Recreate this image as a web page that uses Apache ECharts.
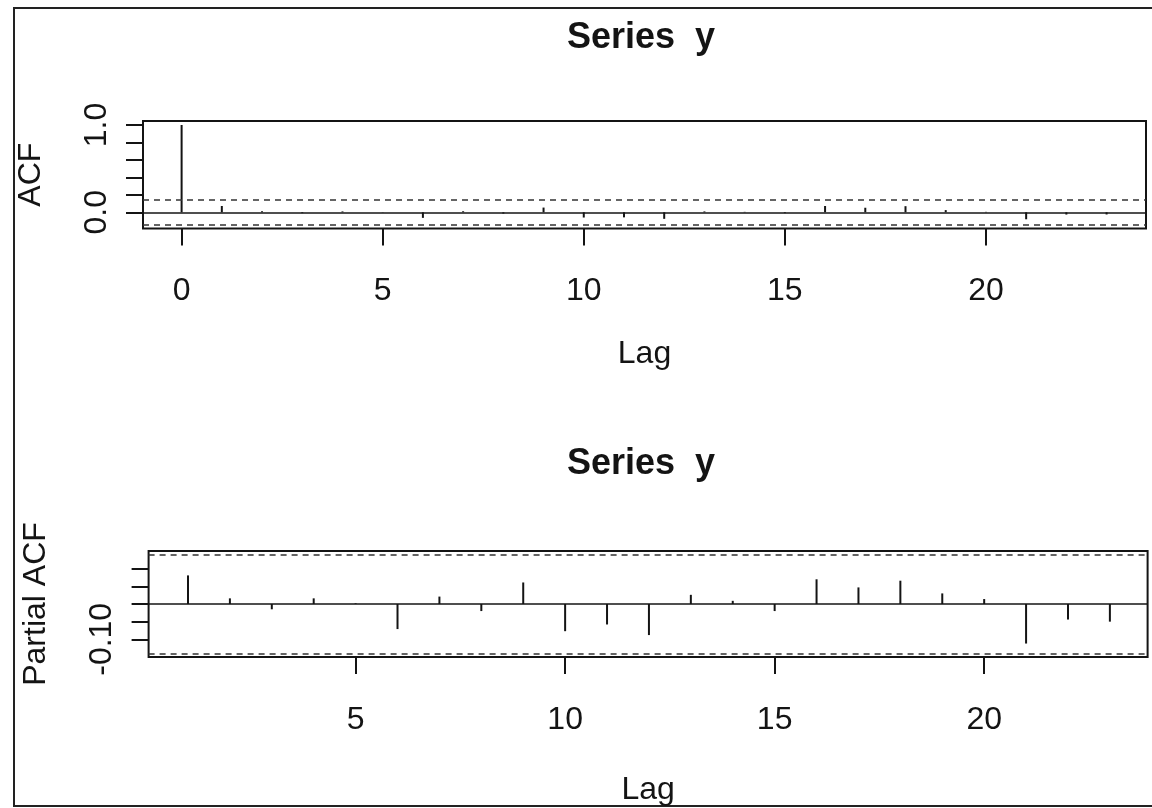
<!DOCTYPE html>
<html><head><meta charset="utf-8">
<script src="https://cdn.jsdelivr.net/npm/echarts@6/dist/echarts.min.js"></script>
<style>html,body{margin:0;padding:0;background:#fff}#c{width:1152px;height:808px}</style>
</head><body><div id="c"></div>
<script>
// ---------- data ----------
const titleText = 'Series  y';
const xAxisTitle = 'Lag';
const acfAxisTitle = 'ACF';
const pacfAxisTitle = 'Partial ACF';
const acfLags = [0,1,2,3,4,5,6,7,8,9,10,11,12,13,14,15,16,17,18,19,20,21,22,23];
const acfValues = [1.0,0.072,0.012,-0.01,0.01,-0.003,-0.064,0.012,-0.015,0.054,-0.06,-0.058,-0.075,0.01,0.005,-0.01,0.072,0.052,0.07,0.025,0.005,-0.08,-0.026,-0.025];
const pacfLags = [1,2,3,4,5,6,7,8,9,10,11,12,13,14,15,16,17,18,19,20,21,22,23];
const pacfValues = [0.081,0.016,-0.015,0.016,0.002,-0.071,0.021,-0.02,0.061,-0.077,-0.058,-0.088,0.026,0.009,-0.02,0.07,0.047,0.066,0.03,0.014,-0.112,-0.044,-0.05];
const ciBound = 0.139;
const acfXTicks = [0,5,10,15,20];
const acfYTicks = [0,0.2,0.4,0.6,0.8,1.0];
const acfYLabels = {'0':'0.0','1':'1.0'};
const pacfXTicks = [5,10,15,20];
const pacfYTicks = [-0.1,-0.05,0,0.05,0.1];
const pacfYLabels = {'-0.1':'-0.10'};

// ---------- layout ----------
const FONT = "'Liberation Sans', Arial, sans-serif";
const INK = '#141414';
function rExt(lo, hi){ const d=(hi-lo)*0.04; return [lo-d, hi+d]; }
const topX = [-0.96, 23.98];
const topY = rExt(Math.min(-ciBound, ...acfValues), Math.max(ciBound, ...acfValues));
const botX = [0.06, 23.9];
const botY = rExt(Math.min(-ciBound, ...pacfValues), Math.max(ciBound, ...pacfValues));
const topBox = {left:143, top:121, width:1003, height:107.4};
const botBox = {left:148.6, top:551, width:999, height:106};
function mapper(box, xr, yr){
  return {
    px: v => box.left + (v-xr[0])/(xr[1]-xr[0])*box.width,
    py: v => box.top + (yr[1]-v)/(yr[1]-yr[0])*box.height
  };
}
// grid carrying the x ticks: spans first..last tick horizontally, full box vertically
function xTickGrid(box, xr, yr, xt){
  const m = mapper(box, xr, yr);
  const l = m.px(xt[0]), r = m.px(xt[xt.length-1]);
  return {left:l, width:r-l, top:box.top, height:box.height, show:false, containLabel:false};
}
// grid carrying the y ticks: full box horizontally, first..last tick vertically
function yTickGrid(box, xr, yr, yt){
  const m = mapper(box, xr, yr);
  const t = m.py(yt[yt.length-1]), b = m.py(yt[0]);
  return {left:box.left, width:box.width, top:t, height:b-t, show:false, containLabel:false};
}

const labelFont = {fontFamily: FONT, fontSize: 32, color: INK};
const hidden = {axisLine:{show:false}, axisTick:{show:false}, axisLabel:{show:false}, splitLine:{show:false}};
function mainAxisX(gi, xr, nameGap){
  return Object.assign({type:'value', gridIndex:gi, min:xr[0], max:xr[1],
    name:xAxisTitle, nameLocation:'middle', nameGap:nameGap, nameTextStyle:labelFont}, hidden);
}
function mainAxisY(gi, yr, name){
  return Object.assign({type:'value', gridIndex:gi, min:yr[0], max:yr[1],
    name:name, nameLocation:'middle', nameGap:96, nameTextStyle:labelFont}, hidden);
}
function dummyAxis(gi){ return Object.assign({type:'value', gridIndex:gi, min:0, max:1}, hidden); }
function tickAxisX(gi, ticks){
  return {type:'value', gridIndex:gi, min:ticks[0], max:ticks[ticks.length-1], interval:ticks[1]-ticks[0],
    axisLine:{show:false}, splitLine:{show:false},
    axisTick:{show:true, length:17, lineStyle:{color:INK, width:2}},
    axisLabel:Object.assign({margin:47}, labelFont)};
}
function tickAxisY(gi, ticks, labels){
  return {type:'value', gridIndex:gi, min:ticks[0], max:ticks[ticks.length-1], interval:ticks[1]-ticks[0],
    axisLine:{show:false}, splitLine:{show:false},
    axisTick:{show:true, length:17, lineStyle:{color:INK, width:2}},
    axisLabel:Object.assign({margin:30, rotate:90, showMinLabel:true, showMaxLabel:true,
      formatter: v => { for (const k in labels) if (Math.abs(v-Number(k))<1e-9) return labels[k]; return ''; }}, labelFont)};
}
function spikes(xi, lags, vals){
  return {type:'bar', xAxisIndex:xi, yAxisIndex:xi, barWidth:2, silent:true,
    itemStyle:{color:INK}, data: lags.map((l,i)=>[l, vals[i]]),
    markLine:{silent:true, symbol:['none','none'], label:{show:false}, animation:false,
      data:[
        {yAxis:0, lineStyle:{type:'solid', color:INK, width:1.6}},
        {yAxis:ciBound, lineStyle:{type:[6,5], color:'#333', width:1.6}},
        {yAxis:-ciBound, lineStyle:{type:[6,5], color:'#333', width:1.6}}
      ]}};
}
const gridBase = {show:true, borderColor:INK, borderWidth:2, backgroundColor:'transparent', containLabel:false};
const option = {
  animation:false,
  backgroundColor:'#fff',
  grid:[
    Object.assign({}, gridBase, topBox),                      // 0
    Object.assign({}, gridBase, botBox),                      // 1
    xTickGrid(topBox, topX, topY, acfXTicks),                 // 2
    yTickGrid(topBox, topX, topY, acfYTicks),                 // 3
    xTickGrid(botBox, botX, botY, pacfXTicks),                // 4
    yTickGrid(botBox, botX, botY, pacfYTicks)                 // 5
  ],
  xAxis:[ mainAxisX(0, topX, 110), mainAxisX(1, botX, 117),
          tickAxisX(2, acfXTicks), dummyAxis(3),
          tickAxisX(4, pacfXTicks), dummyAxis(5) ],
  yAxis:[ mainAxisY(0, topY, acfAxisTitle), mainAxisY(1, botY, pacfAxisTitle),
          dummyAxis(2), tickAxisY(3, acfYTicks, acfYLabels),
          dummyAxis(4), tickAxisY(5, pacfYTicks, pacfYLabels) ],
  series:[ spikes(0, acfLags, acfValues), spikes(1, pacfLags, pacfValues) ],
  graphic:[
    {type:'rect', shape:{x:14, y:8, width:1160, height:798}, style:{fill:'none', stroke:'#222', lineWidth:2}, silent:true},
    {type:'text', x:641, y:38, style:{text:titleText, fontFamily:FONT, fontSize:36, fontWeight:'bold', fill:INK, align:'center', verticalAlign:'middle', textAlign:'center', textVerticalAlign:'middle'}},
    {type:'text', x:641, y:464, style:{text:titleText, fontFamily:FONT, fontSize:36, fontWeight:'bold', fill:INK, align:'center', verticalAlign:'middle', textAlign:'center', textVerticalAlign:'middle'}}
  ]
};
const chart = echarts.init(document.getElementById('c'), null, {renderer:'canvas'});
chart.setOption(option);
</script></body></html>
